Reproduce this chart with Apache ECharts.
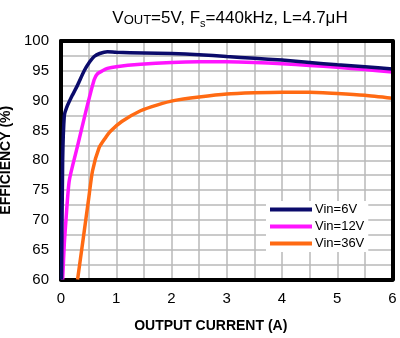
<!DOCTYPE html>
<html>
<head>
<meta charset="utf-8">
<script src="https://cdn.jsdelivr.net/npm/echarts@6/dist/echarts.min.js"></script>
<style>
  html, body { margin: 0; padding: 0; background: #fff; }
  #chart { width: 400px; height: 338px; }
</style>
</head>
<body>
<div id="chart"></div>
<script>
// Efficiency vs. output current for three input voltages
const seriesNames = ['Vin=6V', 'Vin=12V', 'Vin=36V'];

const current6V = [0.01, 0.03, 0.06, 0.1, 0.2, 0.3, 0.42, 0.52, 0.6, 0.7, 0.84, 1.0, 1.5, 2.0, 2.5, 3.0, 3.5, 4.0, 4.5, 5.0, 5.5, 6.0];
const eff6V     = [60, 80, 87.5, 88.8, 90.8, 92.6, 95.0, 96.5, 97.4, 97.9, 98.2, 98.1, 98.0, 97.9, 97.7, 97.4, 97.1, 96.8, 96.4, 96.0, 95.7, 95.3];

const current12V = [0.03, 0.06, 0.09, 0.15, 0.3, 0.45, 0.6, 0.66, 0.75, 0.84, 1.0, 1.44, 2.0, 2.5, 3.0, 3.5, 4.0, 4.5, 5.0, 5.5, 6.0];
const eff12V     = [60, 66, 70, 76.6, 82.4, 88.2, 93.5, 94.5, 95.0, 95.4, 95.7, 96.1, 96.4, 96.5, 96.5, 96.4, 96.2, 95.9, 95.6, 95.2, 94.8];

const current36V = [0.3, 0.4, 0.5, 0.57, 0.69, 0.8, 0.9, 1.1, 1.44, 1.75, 2.04, 2.5, 3.0, 3.5, 4.0, 4.5, 5.0, 5.5, 6.0];
const eff36V     = [60, 66.7, 73.5, 78.2, 82.1, 83.7, 84.9, 86.5, 88.3, 89.3, 90.0, 90.6, 91.1, 91.3, 91.4, 91.4, 91.2, 90.9, 90.4];

const xTicks = [0, 1, 2, 3, 4, 5, 6];
const yTicks = [60, 65, 70, 75, 80, 85, 90, 95, 100];

const colors = ['#0b0b6b', '#ff14ff', '#ff6a13'];

function pairs(xs, ys) {
  return xs.map((x, i) => [x, ys[i]]);
}

const chart = echarts.init(document.getElementById('chart'));
const font = '"Liberation Sans", Arial, sans-serif';

const frameLine = { show: true, onZero: false, lineStyle: { color: '#000', width: 4 } };
const gridLine = { show: true, showMinLine: false, showMaxLine: false, lineStyle: { color: '#b8b8b8', width: 1.5 } };

chart.setOption({
  animation: false,
  backgroundColor: '#fff',
  textStyle: { fontFamily: font },
  title: {
    left: 225,
    textAlign: 'center',
    top: 2,
    text: '{a|V}{b|OUT}{a|=5V, F}{c|s}{a|=440kHz, L=4.7μH}',
    textStyle: {
      fontWeight: 'normal',
      rich: {
        a: { fontFamily: font, fontSize: 17, fontWeight: 'normal', color: '#000', lineHeight: 20, verticalAlign: 'bottom' },
        b: { fontFamily: font, fontSize: 13, fontWeight: 'normal', color: '#000', lineHeight: 20, verticalAlign: 'bottom' },
        c: { fontFamily: font, fontSize: 11, fontWeight: 'normal', color: '#000', lineHeight: 16, verticalAlign: 'bottom', padding: [0, 0, -2, 0] }
      }
    }
  },
  grid: {
    left: 61, top: 41, right: 7.5, bottom: 58.5,
    containLabel: false,
    outerBoundsMode: 'none',
    show: false
  },
  legend: {
    orient: 'vertical',
    left: 266,
    top: 201,
    z: 20,
    padding: [2, 4, 2, 4],
    backgroundColor: '#fff',
    icon: 'rect',
    itemWidth: 42,
    itemHeight: 4,
    itemGap: 4,
    textStyle: { fontFamily: font, fontSize: 13, color: '#000', lineHeight: 13, padding: [0, 0, 0, -2] },
    data: seriesNames
  },
  xAxis: [
    {
      type: 'value',
      position: 'bottom',
      min: 0, max: 6, interval: 0.5,
      name: 'OUTPUT CURRENT (A)',
      nameLocation: 'middle',
      nameGap: 40,
      nameTextStyle: { fontFamily: font, fontSize: 14, fontWeight: 'bold', color: '#000', padding: [0, 32, 0, 0] },
      axisLine: frameLine,
      axisTick: { show: false },
      axisLabel: {
        margin: 12,
        fontFamily: font, fontSize: 15, color: '#000',
        formatter: v => (xTicks.indexOf(v) >= 0 ? String(v) : '')
      },
      splitLine: gridLine,
      z: 1
    },
    {
      type: 'value',
      position: 'top',
      min: 0, max: 6,
      axisLine: frameLine,
      axisTick: { show: false },
      axisLabel: { show: false },
      splitLine: { show: false },
      z: 6
    }
  ],
  yAxis: [
    {
      type: 'value',
      position: 'left',
      min: 60, max: 100, interval: 2.5,
      name: 'EFFICIENCY (%)',
      nameLocation: 'middle',
      nameGap: 44,
      nameTextStyle: { fontFamily: font, fontSize: 14, fontWeight: 'bold', color: '#000' },
      axisLine: frameLine,
      axisTick: { show: false },
      axisLabel: {
        margin: 12,
        fontFamily: font, fontSize: 15, color: '#000',
        formatter: v => (yTicks.indexOf(v) >= 0 ? String(v) : '')
      },
      splitLine: gridLine,
      z: 1
    },
    {
      type: 'value',
      position: 'right',
      min: 60, max: 100,
      axisLine: frameLine,
      axisTick: { show: false },
      axisLabel: { show: false },
      splitLine: { show: false },
      z: 6
    }
  ],
  series: [
    { name: seriesNames[0], type: 'line', data: pairs(current6V, eff6V), showSymbol: false, smooth: 0.2, color: colors[0], lineStyle: { width: 3.5, color: colors[0] }, z: 4 },
    { name: seriesNames[1], type: 'line', data: pairs(current12V, eff12V), showSymbol: false, smooth: 0.2, color: colors[1], lineStyle: { width: 3.5, color: colors[1] }, z: 3 },
    { name: seriesNames[2], type: 'line', data: pairs(current36V, eff36V), showSymbol: false, smooth: 0.2, color: colors[2], lineStyle: { width: 3.5, color: colors[2] }, z: 2 }
  ]
});
</script>
</body>
</html>
